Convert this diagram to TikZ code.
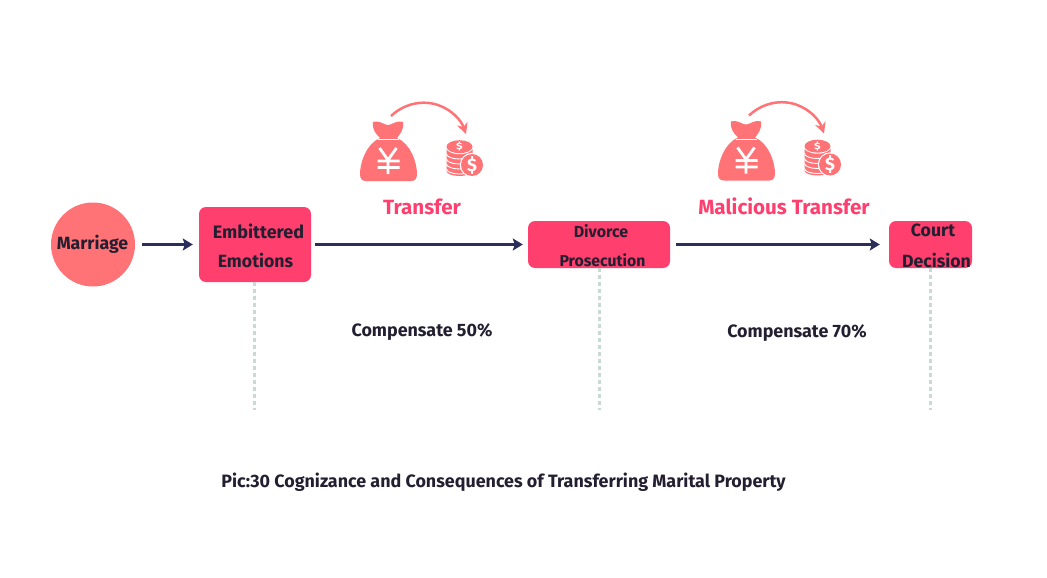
\documentclass[tikz,border=0pt]{standalone}
\usepackage{fontspec}
\setmainfont{Fira Sans}
\usetikzlibrary{arrows.meta}
\definecolor{circ}{HTML}{FF7377}
\definecolor{boxc}{HTML}{FF3F6E}
\definecolor{ink}{HTML}{231F30}
\definecolor{navy}{HTML}{2B2D5B}
\definecolor{drop}{HTML}{C9DAD5}
\tikzset{
  x=1pt,y=-1pt,
  stagebox/.style={fill=boxc,rounded corners=7pt,inner sep=0pt,minimum width=#1},
  stagetext/.style={text=ink,font=\fontsize{#1}{#1}\selectfont\bfseries,inner sep=0pt,anchor=center},
  heading/.style={text=boxc,font=\fontsize{20.6}{20.6}\selectfont\bfseries,inner sep=0pt},
  note/.style={text=ink,font=\fontsize{17.9}{17.9}\selectfont\bfseries,inner sep=0pt},
  flow/.style={draw=navy,line width=2.8pt,-{Stealth[length=10pt,width=12pt,inset=2pt]}},
  dropline/.style={draw=drop,line width=3pt,dash pattern=on 4pt off 3pt},
  pics/moneyicon/.style={code={
    % bag
    \fill[circ] (373,122) .. controls (380,120) and (384,125) .. (388,125)
      .. controls (392,125) and (396,120) .. (403,122)
      .. controls (404,130) and (400,134) .. (397,138)
      .. controls (411,144) and (417,163) .. (417,174)
      .. controls (417,179) and (415,181) .. (411,181)
      -- (366,181) .. controls (362,181) and (360,179) .. (360,174)
      .. controls (360,163) and (366,144) .. (380,138)
      .. controls (376,134) and (372,130) .. (373,122) -- cycle;
    \draw[white,line width=1pt] (378,139.5) -- (399,139.5);
    \draw[white,line width=2.8pt] (379.5,148) -- (388,160) -- (396.5,148)
      (388,160) -- (388,174) (377.5,161) -- (399.5,161) (377.5,167.5) -- (399.5,167.5);
    % arc
    \draw[circ,line width=2.5pt,-{Stealth[length=11pt,width=11pt]}]
      (391,116) .. controls (405,103) and (423,100) .. (438,105)
      .. controls (452,110) and (461,120) .. (466,134);
    % coins
    \fill[circ] (446.5,147) -- (446.5,171) arc[start angle=180,end angle=360,x radius=13,y radius=-5] -- (472.5,147) -- cycle;
    \foreach \yy in {154,159,164,169}{
      \draw[white,line width=.9pt] (446.5,\yy) arc[start angle=180,end angle=360,x radius=13,y radius=-5];
    }
    \fill[white] (459.5,146.7) ellipse[x radius=14,y radius=7.5];
    \fill[circ] (459.5,146.7) ellipse[x radius=13,y radius=6.5];
    \node[text=white,inner sep=0pt,yscale=.75,font=\fontsize{12}{12}\selectfont\bfseries] at (459.5,146.7) {\$};
    \fill[white] (472,165) circle[radius=12.2];
    \fill[circ] (472,165) circle[radius=11];
    \node[text=white,inner sep=0pt,font=\fontsize{18}{18}\selectfont\bfseries] at (472,165) {\$};
  }}
}
\begin{document}
\begin{tikzpicture}
\useasboundingbox (0,0) rectangle (1047,578);
% boxes
\node[circle,fill=circ,minimum size=84pt,inner sep=0pt] (marriage) at (93,244.5) {};
\node[stagebox=112pt,minimum height=75pt] (embittered) at (255,244.5) {};
\node[stagebox=142pt,minimum height=47pt] (divorce) at (599,244.5) {};
\node[stagebox=83pt,minimum height=47pt] (court) at (930.5,244.5) {};
% box texts
\node[stagetext=17.7] (tmarriage) at (92.5,244) {Marriage};
\node[stagetext=18] (tembit) at (258.5,231) {Embittered};
\node[stagetext=17.7] (temo) at (255.5,260) {Emotions};
\node[stagetext=16] (tdiv) at (601,231) {Divorce};
\node[stagetext=15.8] (tpro) at (602.5,260) {Prosecution};
\node[stagetext=17.7] (tcourt) at (933,230) {Court};
\node[stagetext=17.7] (tdec) at (936.5,260) {Decision};
% flows
\draw[flow,shorten <=7pt,shorten >=6pt] (marriage) -- (embittered);
\draw[flow,shorten <=4pt,shorten >=5pt] (embittered) -- (divorce);
\draw[flow,shorten <=6pt,shorten >=9pt] (divorce) -- (court);
% drops
\coordinate (d1) at (254,410);
\coordinate (d2) at (599,410);
\coordinate (d3) at (930,410);
\draw[dropline] (embittered.south -| d1) -- (d1);
\draw[dropline] (divorce.south -| d2) -- (d2);
\draw[dropline] (court.south -| d3) -- (d3);
% icons
\pic {moneyicon};
\pic[xshift=358pt,yshift=0.5pt] {moneyicon};
% labels
\node[heading] (transfer) at (422,207) {Transfer};
\node[heading] (malicious) at (784,206) {Malicious Transfer};
\node[note] (c50) at (422,332) {Compensate 50\%};
\node[note] (c70) at (797,333) {Compensate 70\%};
\node[note] (caption) at (503.5,482.5) {Pic:30 Cognizance and Consequences of Transferring Marital Property};
\end{tikzpicture}
\end{document}
